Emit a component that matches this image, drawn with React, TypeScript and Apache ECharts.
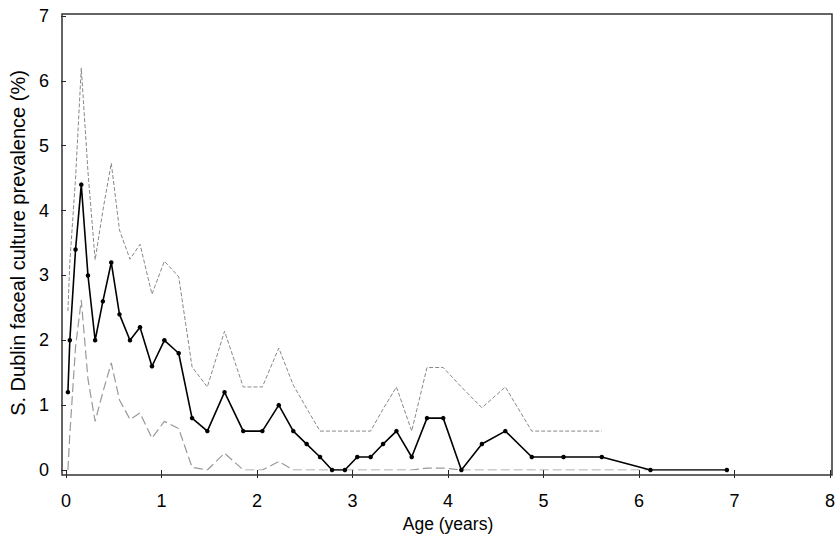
import React, { useEffect, useRef } from "react";
import * as echarts from "echarts";

const ages = [0.02, 0.04, 0.10, 0.16, 0.23, 0.305, 0.386, 0.474, 0.56, 0.67, 0.775, 0.90, 1.03, 1.18, 1.32, 1.48, 1.66, 1.856, 2.056, 2.228, 2.38, 2.52, 2.66, 2.786, 2.92, 3.05, 3.19, 3.32, 3.46, 3.62, 3.78, 3.95, 4.14, 4.355, 4.6, 4.877, 5.21, 5.61, 6.12, 6.92];
const prevalence = [1.2, 2.0, 3.4, 4.4, 3.0, 2.0, 2.6, 3.2, 2.4, 2.0, 2.2, 1.6, 2.0, 1.8, 0.8, 0.6, 1.2, 0.6, 0.6, 1.0, 0.6, 0.4, 0.2, 0, 0, 0.2, 0.2, 0.4, 0.6, 0.2, 0.8, 0.8, 0, 0.4, 0.6, 0.2, 0.2, 0.2, 0, 0];
const upperCI = [2.45, 3.2, 4.5, 6.2, 4.6, 3.24, 4.0, 4.73, 3.7, 3.25, 3.48, 2.71, 3.22, 2.98, 1.59, 1.28, 2.14, 1.28, 1.28, 1.88, 1.31, 0.95, 0.6, 0.6, 0.6, 0.6, 0.6, 0.94, 1.28, 0.6, 1.58, 1.58, 1.28, 0.96, 1.28, 0.6, 0.6, 0.6];
const lowerCI = [0, 0.55, 1.9, 2.62, 1.4, 0.75, 1.2, 1.65, 1.08, 0.78, 0.88, 0.49, 0.75, 0.64, 0.04, 0, 0.26, 0, 0, 0.13, 0, 0, 0, 0, 0, 0, 0, 0, 0, 0, 0.03, 0.03, 0, 0, 0, 0, 0, 0, 0];
const xTicks = [0, 1, 2, 3, 4, 5, 6, 7, 8];
const yTicks = [0, 1, 2, 3, 4, 5, 6, 7];

const FONT = "'Liberation Sans', Arial, Helvetica, sans-serif";

export default function App() {
  const ref = useRef<HTMLDivElement>(null);
  useEffect(() => {
    if (!ref.current) return;
    const chart = echarts.init(ref.current, null, { renderer: "svg" });
    const pairs = (vals: number[]) => vals.map((v, i) => [ages[i], v]);
    chart.setOption({
      animation: false,
      backgroundColor: "#ffffff",
      grid: { left: 66, right: 10, top: 16, bottom: 71 },
      xAxis: {
        type: "value",
        min: xTicks[0],
        max: xTicks[xTicks.length - 1],
        interval: 1,
        offset: 5,
        name: "Age (years)",
        nameLocation: "middle",
        nameGap: 40,
        nameTextStyle: { fontFamily: FONT, fontSize: 17.5, color: "#000" },
        axisLine: { show: false },
        axisTick: { show: true, length: 8, lineStyle: { color: "#222", width: 1 } },
        axisLabel: { fontFamily: FONT, fontSize: 18, color: "#000", margin: 17 },
        splitLine: { show: false },
      },
      yAxis: {
        type: "value",
        min: yTicks[0],
        max: yTicks[yTicks.length - 1],
        interval: 1,
        offset: 4,
        name: "S. Dublin faceal culture prevalence (%)",
        nameLocation: "middle",
        nameGap: 34,
        nameTextStyle: { fontFamily: FONT, fontSize: 20, color: "#000" },
        axisLine: { show: false },
        axisTick: { show: true, length: 5, lineStyle: { color: "#222", width: 1 } },
        axisLabel: { fontFamily: FONT, fontSize: 18, color: "#000", margin: 13 },
        splitLine: { show: false },
      },
      graphic: [
        {
          type: "rect",
          shape: { x: 62, y: 14, width: 770, height: 461 },
          style: { fill: "none", stroke: "#333", lineWidth: 1.5 },
          silent: true,
          z: 100,
        },
      ],
      series: [
        {
          type: "line",
          data: pairs(upperCI),
          symbol: "none",
          lineStyle: { color: "#888", width: 1, type: [4, 2] },
          z: 2,
        },
        {
          type: "line",
          data: pairs(lowerCI),
          symbol: "none",
          lineStyle: { color: "#999", width: 1.2, type: [9, 4] },
          z: 2,
        },
        {
          type: "line",
          data: pairs(prevalence),
          symbol: "circle",
          symbolSize: 4.5,
          itemStyle: { color: "#000" },
          lineStyle: { color: "#000", width: 1.6 },
          z: 3,
        },
      ],
    });
    return () => chart.dispose();
  }, []);
  return (
    <div
      ref={ref}
      style={{ position: "absolute", left: 0, top: 0, width: 840, height: 541 }}
    />
  );
}
